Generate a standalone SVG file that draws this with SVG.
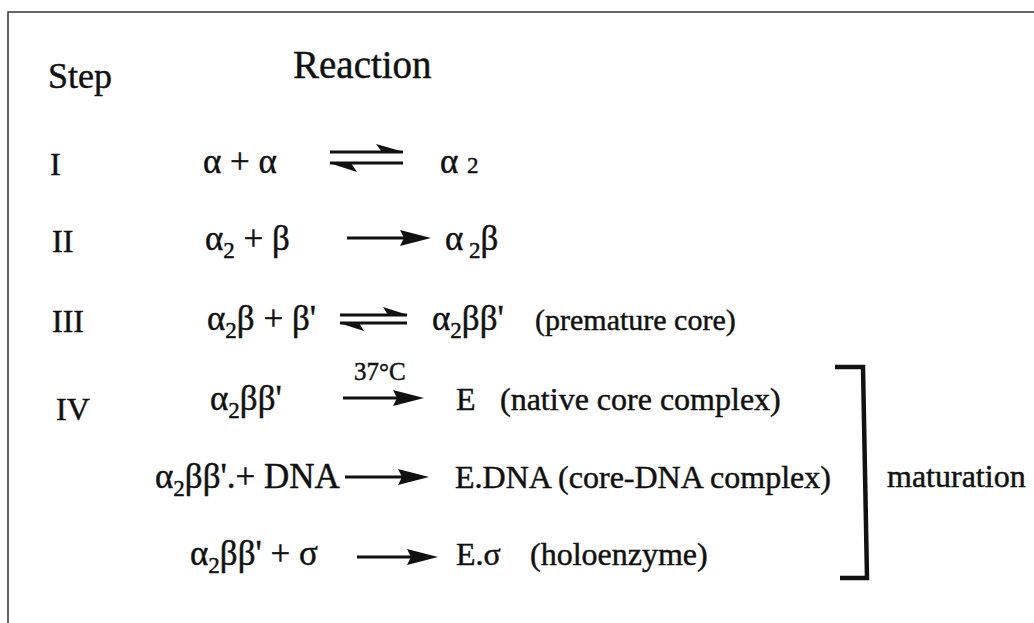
<svg xmlns="http://www.w3.org/2000/svg" width="1034" height="623" viewBox="0 0 1034 623">
<defs>
<style>
text{font-family:"Liberation Serif","Times New Roman",serif;fill:#111;stroke:#111;stroke-width:0.45;}
.h{font-size:36px;}
.r{font-size:39px;}
.t{font-size:32px;}
.p{font-size:30px;}
.g{font-size:35px;}
.s{font-size:23px;}
.c{font-size:25px;}
.ln{stroke:#111;stroke-width:3;fill:none;}
.hd{fill:#111;stroke:none;}
</style>
</defs>
<rect width="1034" height="623" fill="#fff"/>
<g id="frame">
<path d="M8,623 L8,12 L1034,12" stroke="#333" stroke-width="1.5" fill="none"/>
</g>
<g id="headers">
<text class="h" x="48" y="88">Step</text>
<text class="r" x="293" y="78">Reaction</text>
</g>
<g id="steps">
<text class="t" x="50" y="175">I</text>
<text class="t" x="52" y="252">II</text>
<text class="t" x="52" y="332">III</text>
<text class="t" x="56" y="420">IV</text>
</g>
<g id="row1">
<text class="g" x="203" y="173">α + α</text>
<text class="g" x="440" y="173">α <tspan class="s">2</tspan></text>
</g>
<g id="row2">
<text class="g" x="205" y="250">α<tspan class="s" dy="8">2</tspan><tspan dy="-8"> + β</tspan></text>
<text class="g" x="445" y="250">α<tspan class="s" dy="8"> 2</tspan><tspan dy="-8">β</tspan></text>
</g>
<g id="row3">
<text class="g" x="207" y="330">α<tspan class="s" dy="8">2</tspan><tspan dy="-8">β + β'</tspan></text>
<text class="g" x="432" y="330">α<tspan class="s" dy="8">2</tspan><tspan dy="-8">ββ'</tspan></text>
<text class="p" x="535" y="330">(premature core)</text>
</g>
<g id="row4">
<text class="c" x="354" y="380">37°C</text>
<text class="g" x="210" y="410">α<tspan class="s" dy="8">2</tspan><tspan dy="-8">ββ'</tspan></text>
<text class="t" x="456" y="410">E</text>
<text class="t" x="500" y="410">(native core complex)</text>
</g>
<g id="row5">
<text class="g" x="155" y="488">α<tspan class="s" dy="8">2</tspan><tspan dy="-8">ββ'.+ DNA</tspan></text>
<text class="t" x="455" y="488">E.DNA (core-DNA complex)</text>
</g>
<g id="row6">
<text class="g" x="190" y="565">α<tspan class="s" dy="8">2</tspan><tspan dy="-8">ββ' + σ</tspan></text>
<text class="t" x="456" y="565">E.σ</text>
<text class="t" x="530" y="565">(holoenzyme)</text>
</g>
<g id="maturation">
<path d="M835,367 L863,367 L867,578 L840,578" stroke="#111" stroke-width="4.5" fill="none"/>
<text class="t" x="887" y="487">maturation</text>
</g>
<g id="connectors">
<path class="ln" d="M330,152 L403,152"/>
<path class="hd" d="M404,152 L376,144 L382,152 Z"/>
<path class="ln" d="M330,163 L403,163"/>
<path class="hd" d="M329,163 L357,172 L351,163 Z"/>
<path class="ln" d="M347,238 L408,238"/>
<path class="hd" d="M431,238 L400,230 L404,238 L400,246 Z"/>
<path class="ln" d="M340,315 L407,315"/>
<path class="hd" d="M408,315 L383,307 L388,315 Z"/>
<path class="ln" d="M340,323 L407,323"/>
<path class="hd" d="M339,323 L364,331 L359,323 Z"/>
<path class="ln" d="M343,398 L398,398"/>
<path class="hd" d="M424,398 L393,390 L397,398 L393,406 Z"/>
<path class="ln" d="M345,477 L403,477"/>
<path class="hd" d="M429,477 L398,469 L402,477 L398,485 Z"/>
<path class="ln" d="M357,557 L412,557"/>
<path class="hd" d="M438,557 L407,549 L411,557 L407,565 Z"/>
</g>
</svg>
